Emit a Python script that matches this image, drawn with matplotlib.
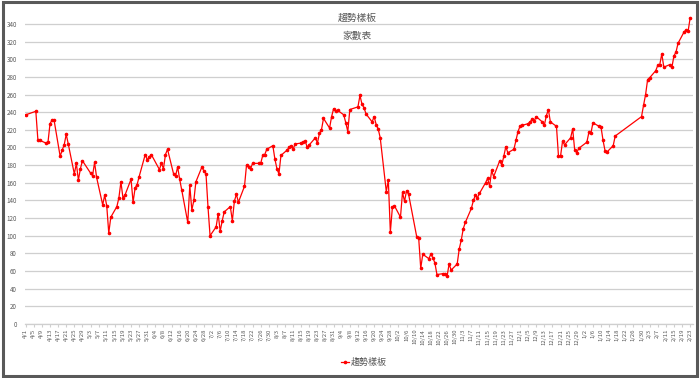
#趨勢樣板 家數表 - line chart of daily counts
import matplotlib
matplotlib.use("Agg")
import matplotlib.pyplot as plt
from matplotlib.patches import Rectangle
import pandas as pd

plt.rcParams['font.family'] = ['Noto Sans CJK TC', 'DejaVu Sans']

#trading days (m/d) and the count for each day, 2022-04 to 2023-02
days_2022 = [
    "4/1", "4/6", "4/7", "4/8", "4/11", "4/12", "4/13", "4/14", "4/15",
    "4/18", "4/19", "4/20", "4/21", "4/22", "4/25", "4/26", "4/27", "4/28", "4/29",
    "5/3", "5/4", "5/5", "5/6", "5/9", "5/10", "5/11", "5/12", "5/13",
    "5/16", "5/17", "5/18", "5/19", "5/20", "5/23", "5/24", "5/25", "5/26", "5/27",
    "5/30", "5/31", "6/1", "6/2", "6/6", "6/7", "6/8", "6/9", "6/10",
    "6/13", "6/14", "6/15", "6/16", "6/17", "6/20", "6/21", "6/22", "6/23", "6/24",
    "6/27", "6/28", "6/29", "6/30", "7/1", "7/4", "7/5", "7/6", "7/7", "7/8",
    "7/11", "7/12", "7/13", "7/14", "7/15", "7/18", "7/19", "7/20", "7/21", "7/22",
    "7/25", "7/26", "7/27", "7/28", "7/29", "8/1", "8/2", "8/3", "8/4", "8/5",
    "8/8", "8/9", "8/10", "8/11", "8/12", "8/15", "8/16", "8/17", "8/18", "8/19",
    "8/22", "8/23", "8/24", "8/25", "8/26", "8/29", "8/30", "8/31", "9/1", "9/2",
    "9/5", "9/6", "9/7", "9/8", "9/12", "9/13", "9/14", "9/15", "9/16",
    "9/19", "9/20", "9/21", "9/22", "9/23", "9/26", "9/27", "9/28", "9/29", "9/30",
    "10/3", "10/4", "10/5", "10/6", "10/7", "10/11", "10/12", "10/13", "10/14",
    "10/17", "10/18", "10/19", "10/20", "10/21", "10/24", "10/25", "10/26", "10/27", "10/28",
    "10/31", "11/1", "11/2", "11/3", "11/4", "11/7", "11/8", "11/9", "11/10", "11/11",
    "11/14", "11/15", "11/16", "11/17", "11/18", "11/21", "11/22", "11/23", "11/24", "11/25",
    "11/28", "11/29", "11/30", "12/1", "12/2", "12/5", "12/6", "12/7", "12/8", "12/9",
    "12/12", "12/13", "12/14", "12/15", "12/16", "12/19", "12/20", "12/21", "12/22", "12/23",
    "12/26", "12/27", "12/28", "12/29", "12/30",
]
days_2023 = [
    "1/3", "1/4", "1/5", "1/6", "1/9", "1/10", "1/11", "1/12", "1/13", "1/16", "1/17",
    "1/30", "1/31", "2/1", "2/2", "2/3", "2/6", "2/7", "2/8", "2/9", "2/10",
    "2/13", "2/14", "2/15", "2/16", "2/17", "2/20", "2/21", "2/22", "2/23",
]
counts = [
    237, 241, 209, 208, 205, 206, 227, 231, 231,
    190, 197, 203, 215, 204, 170, 182, 163, 176, 185,
    171, 168, 183, 166, 135, 146, 134, 103, 121,
    133, 143, 161, 143, 146, 164, 138, 154, 158, 167,
    192, 186, 189, 192, 175, 182, 176, 192, 198,
    170, 168, 178, 164, 152, 115, 157, 129, 140, 161,
    178, 173, 170, 132, 100, 110, 125, 105, 117, 127,
    133, 117, 139, 147, 138, 156, 180, 178, 176, 182,
    182, 182, 191, 192, 198, 202, 187, 176, 170, 191,
    197, 200, 202, 198, 204, 205, 206, 207, 200, 203,
    211, 205, 216, 220, 233, 222, 235, 244, 241, 242,
    237, 228, 218, 243, 246, 259, 249, 245, 238,
    229, 235, 226, 221, 211, 150, 163, 104, 132, 134,
    121, 149, 139, 151, 147, 99, 97, 63, 79,
    74, 79, 75, 69, 56, 57, 57, 54, 68, 61,
    68, 85, 95, 108, 115, 131, 140, 146, 143, 148,
    160, 165, 156, 174, 167, 185, 180, 190, 201, 194,
    198, 208, 218, 224, 225, 227, 229, 232, 230, 235,
    229, 225, 236, 243, 229, 224, 190, 190, 207, 203,
    211, 221, 197, 194, 199,
    206, 217, 216, 228, 224, 223, 208, 196, 195, 202, 213,
    235, 248, 260, 277, 279, 287, 293, 294, 306, 291,
    294, 291, 304, 308, 318, 331, 333, 332, 347,
]
series_name = "趨勢樣板"
title = "趨勢樣板"
subtitle = "家數表"

dates = [pd.Timestamp(f"2022/{d}") for d in days_2022] + [pd.Timestamp(f"2023/{d}") for d in days_2023]

fig = plt.figure(figsize=(7, 3.78), dpi=100)
ax = fig.add_axes([0.036, 0.143, 0.954, 0.817])

ax.plot(dates, counts, color="#ff0000", linewidth=0.9, marker="o", markersize=1.6, label=series_name)

#y axis: 0..340 every 20, gridlines like excel
ax.set_ylim(0, 350)
ax.set_yticks(range(0, 341, 20))
ax.grid(axis="y", color="#cfcfcf", linewidth=0.9)
ax.set_axisbelow(True)
ax.tick_params(axis="y", length=0, labelsize=4.5, labelcolor="#595959", pad=6)

#x axis: a label every 4 days
ticks = pd.date_range(dates[0], dates[-1], freq="4D")
ax.set_xticks(ticks)
ax.set_xticklabels([f"{t.month}/{t.day}" for t in ticks], rotation=90)
ax.tick_params(axis="x", length=2, color="#cfcfcf", labelsize=4.3, labelcolor="#595959", pad=1.5)
ax.set_xlim(dates[0] - pd.Timedelta(hours=6), dates[-1] + pd.Timedelta(days=1.4))

for s in ["top", "right", "left"]:
    ax.spines[s].set_visible(False)
ax.spines["bottom"].set_color("#cfcfcf")
ax.spines["bottom"].set_linewidth(0.9)

fig.text(0.51, 0.952, title, ha="center", va="center", fontsize=7, color="#595959")
fig.text(0.51, 0.905, subtitle, ha="center", va="center", fontsize=7, color="#595959")

fig.legend(loc="center", bbox_to_anchor=(0.52, 0.04), frameon=False, fontsize=6.5,
           handlelength=0.8, handletextpad=0.2, labelcolor="#595959")

#outer border of the chart
fig.patches.append(Rectangle((0.004, 0.006), 0.992, 0.988, transform=fig.transFigure,
                             fill=False, edgecolor="#595959", linewidth=2.2))

fig.savefig("out.png", dpi=100)
